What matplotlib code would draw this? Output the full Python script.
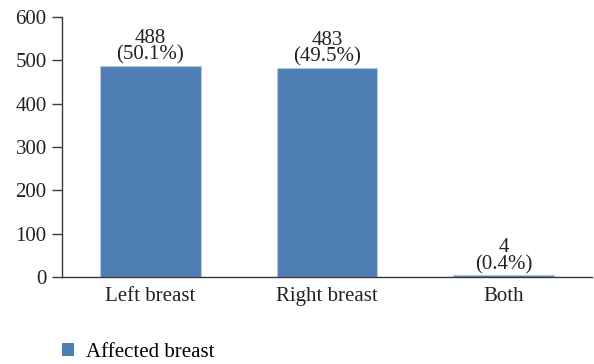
import matplotlib
matplotlib.use('Agg')
import matplotlib.pyplot as plt
from matplotlib.patches import Patch

categories = ['Left breast', 'Right breast', 'Both']
counts = [488, 483, 4]
percents = [50.1, 49.5, 0.4]
yticks = [0, 100, 200, 300, 400, 500, 600]

bar_color = '#4f7eb5'
axis_color = '#3a3a3a'

plt.rcParams['font.family'] = ['Liberation Serif', 'DejaVu Serif']
plt.rcParams['font.size'] = 15

fig = plt.figure(figsize=(5.94, 3.64), dpi=100)
ax = fig.add_axes([62/594, 1 - 277/364, 530/594, 260/364])

x = range(len(categories))
bars = ax.bar(x, counts, width=0.57, color=bar_color,
              edgecolor='#b4c8e2', linewidth=0.8)

for xi, c, p in zip(x, counts, percents):
    ax.text(xi, c + 2, '%d\n(%.1f%%)' % (c, p), ha='center', va='bottom',
            color='#222222', linespacing=0.85)

ax.set_xlim(-0.5, 2.5)
ax.set_ylim(0, 600)
ax.set_yticks(yticks)
ax.set_xticks(list(x))
ax.set_xticklabels(categories)

for side in ('top', 'right'):
    ax.spines[side].set_visible(False)
for side in ('left', 'bottom'):
    ax.spines[side].set_color(axis_color)
    ax.spines[side].set_linewidth(1.0)
ax.tick_params(axis='y', direction='out', length=7, width=1.0,
               color=axis_color, labelcolor='#222222', pad=4)
ax.tick_params(axis='x', length=0, pad=7, labelcolor='#222222')

handle = Patch(facecolor=bar_color, edgecolor='none')
fig.legend([handle], ['Affected breast'], loc='lower left',
           bbox_to_anchor=(0.072, -0.045), frameon=False,
           handlelength=0.62, handleheight=0.62, handletextpad=0.55)

fig.savefig('out.png', dpi=100)
